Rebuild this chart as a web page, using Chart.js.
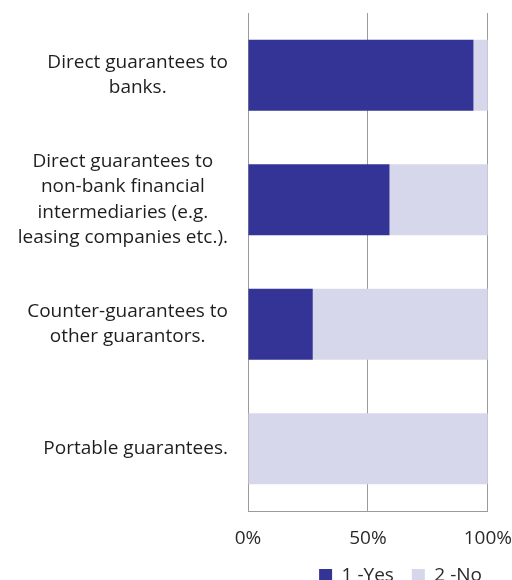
<!DOCTYPE html>
<html>
<head>
<meta charset="utf-8">
<script src="https://cdn.jsdelivr.net/npm/chart.js@4"></script>
<style>
  html, body { margin: 0; padding: 0; background: #fff; overflow: hidden; }
  #wrap { position: relative; width: 512px; height: 595px; }
</style>
</head>
<body>
<div id="wrap"><canvas id="c"></canvas></div>
<script>
const categories = [
  ["Direct guarantees to", "banks."],
  ["Direct guarantees to", "non-bank financial", "intermediaries (e.g.", "leasing companies etc.)."],
  ["Counter-guarantees to", "other guarantors."],
  ["Portable guarantees."]
];
const yesValues = [94, 59, 27, 0];
const noValues = [6, 41, 73, 100];
const seriesNames = ["1 -Yes", "2 -No"];
const xTicks = [0, 50, 100];

const FONT = "'Open Sans', Lato, sans-serif";
const LABEL_SIZE = 19;
const LABEL_LINE = 25.5;
const LABEL_RIGHT = 228;

// Category labels: each block centred on itself, blocks right-aligned (like the source)
const categoryLabelPlugin = {
  id: 'categoryLabels',
  afterDraw(chart) {
    const ctx = chart.ctx;
    const y = chart.scales.y;
    ctx.save();
    ctx.font = LABEL_SIZE + 'px ' + FONT;
    ctx.fillStyle = '#1e1e1e';
    ctx.textAlign = 'center';
    ctx.textBaseline = 'middle';
    chart.data.labels.forEach((lines, i) => {
      const cy = y.getPixelForTick(i);
      const widest = Math.max(...lines.map(l => ctx.measureText(l).width));
      const cx = LABEL_RIGHT - widest / 2;
      const y0 = cy - (lines.length - 1) * LABEL_LINE / 2;
      lines.forEach((l, k) => ctx.fillText(l, cx, y0 + k * LABEL_LINE));
    });
    ctx.restore();
  }
};

new Chart(document.getElementById('c'), {
  type: 'bar',
  data: {
    labels: categories,
    datasets: [
      { label: seriesNames[0], data: yesValues, backgroundColor: '#333495', borderWidth: 0 },
      { label: seriesNames[1], data: noValues, backgroundColor: '#d7d7eb', borderWidth: 0 }
    ]
  },
  plugins: [categoryLabelPlugin],
  options: {
    indexAxis: 'y',
    responsive: true,
    maintainAspectRatio: false,
    animation: false,
    barPercentage: 0.57,
    categoryPercentage: 1,
    layout: { padding: { top: 13, left: 0, right: 12, bottom: 0 } },
    scales: {
      x: {
        stacked: true,
        min: 0, max: 100,
        afterBuildTicks: (axis) => { axis.ticks = xTicks.map(v => ({ value: v })); },
        afterFit: (axis) => { axis.height = 37; },
        ticks: {
          callback: (v) => v + '%',
          font: { family: FONT, size: 19 },
          color: '#2a2a2a',
          padding: 0,
          maxRotation: 0
        },
        grid: { color: '#9b9b9b', lineWidth: 1, drawTicks: true, tickLength: 16, tickColor: 'rgba(0,0,0,0)' },
        border: { display: true, color: '#9b9b9b', width: 1 }
      },
      y: {
        stacked: true,
        afterFit: (axis) => { axis.width = 248; },
        ticks: { display: false },
        grid: { display: false, drawTicks: false },
        border: { display: false }
      }
    },
    plugins: {
      legend: {
        position: 'bottom',
        align: 'end',
        labels: {
          font: { family: FONT, size: 19 },
          color: '#2a2a2a',
          boxWidth: 13,
          boxHeight: 13,
          padding: 18
        }
      },
      title: { display: false },
      tooltip: { enabled: false }
    }
  }
});
</script>
</body>
</html>
